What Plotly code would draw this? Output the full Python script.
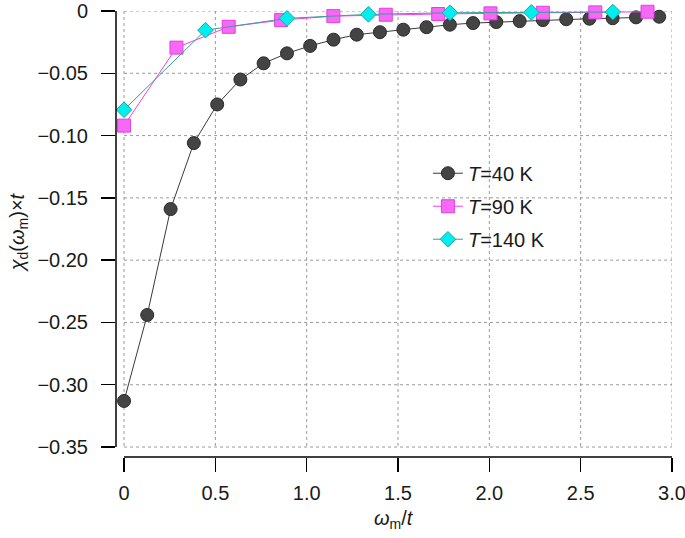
import plotly.graph_objects as go

# ---- data ----
x_40 = [0.0, 0.127, 0.255, 0.382, 0.510, 0.637, 0.764, 0.892, 1.019, 1.147, 1.274, 1.401,
        1.529, 1.656, 1.784, 1.911, 2.038, 2.166, 2.293, 2.421, 2.548, 2.675, 2.803, 2.930]
y_40 = [-0.313, -0.244, -0.159, -0.106, -0.075, -0.055, -0.042, -0.034, -0.028, -0.023, -0.019, -0.017,
        -0.015, -0.013, -0.011, -0.0097, -0.0089, -0.0081, -0.0073, -0.0066, -0.0062, -0.0058, -0.0051, -0.0046]

x_90 = [0.0, 0.287, 0.573, 0.860, 1.146, 1.433, 1.720, 2.006, 2.293, 2.580, 2.866]
y_90 = [-0.092, -0.0294, -0.0127, -0.0073, -0.0041, -0.0030, -0.0024, -0.0019, -0.0014, -0.0011, -0.0006]

x_140 = [0.0, 0.446, 0.892, 1.338, 1.784, 2.230, 2.676]
y_140 = [-0.0793, -0.0154, -0.0059, -0.0027, -0.0014, -0.0011, -0.0008]

x_ticks = [0, 0.5, 1.0, 1.5, 2.0, 2.5, 3.0]
x_tick_labels = ["0", "0.5", "1.0", "1.5", "2.0", "2.5", "3.0"]
y_ticks = [0, -0.05, -0.10, -0.15, -0.20, -0.25, -0.30, -0.35]
y_tick_labels = ["0", "\u22120.05", "\u22120.10", "\u22120.15", "\u22120.20", "\u22120.25", "\u22120.30", "\u22120.35"]

FONT = "Liberation Sans, Arial, Helvetica, sans-serif"

fig = go.Figure()

fig.add_trace(go.Scatter(
    x=x_40, y=y_40, mode="lines+markers", name="<i>T</i>=40 K", legendgroup="a",
    line=dict(color="#3a3a3a", width=1),
    marker=dict(symbol="circle", size=13, color="#444444", line=dict(color="#2a2a2a", width=1)),
    cliponaxis=False,
))
fig.add_trace(go.Scatter(
    x=x_90, y=y_90, mode="lines+markers", name="<i>T</i>=90 K", legendgroup="b",
    line=dict(color="#f040f0", width=1),
    marker=dict(symbol="square", size=13, color="#f768f7", line=dict(color="#e040e0", width=1)),
    cliponaxis=False,
))
fig.add_trace(go.Scatter(
    x=x_140, y=y_140, mode="lines+markers", name="<i>T</i>=140 K", legendgroup="c",
    line=dict(color="#3f9c9c", width=1),
    marker=dict(symbol="diamond", size=12, color="#00eeee", line=dict(color="#20a8a8", width=1)),
    cliponaxis=False,
))

# dotted grid spanning the tick range (R style)
shapes = []
for xv in x_ticks:
    shapes.append(dict(type="line", xref="x", yref="y", x0=xv, x1=xv, y0=y_ticks[0], y1=y_ticks[-1],
                       line=dict(color="#9a9a9a", width=1, dash="dot"), layer="below"))
for yv in y_ticks:
    shapes.append(dict(type="line", xref="x", yref="y", x0=x_ticks[0], x1=x_ticks[-1], y0=yv, y1=yv,
                       line=dict(color="#9a9a9a", width=1, dash="dot"), layer="below"))
# detached axis lines
shapes.append(dict(type="line", xref="x", yref="paper", x0=x_ticks[0], x1=x_ticks[-1], y0=0, y1=0,
                   line=dict(color="black", width=1.5)))
shapes.append(dict(type="line", xref="paper", yref="y", x0=0, x1=0, y0=y_ticks[0], y1=y_ticks[-1],
                   line=dict(color="black", width=1.5)))

fig.update_layout(
    template="none",
    width=685, height=538,
    margin=dict(l=116, r=13, t=11, b=81, pad=0, autoexpand=False),
    paper_bgcolor="white", plot_bgcolor="white",
    font=dict(family=FONT, size=20, color="#1a1a1a"),
    shapes=shapes,
    showlegend=True,
    hovermode=False,
    legend=dict(x=0.561, y=0.68, xanchor="left", yanchor="top",
                bgcolor="rgba(0,0,0,0)", borderwidth=0, font=dict(size=20), itemwidth=30,
                tracegroupgap=4),
    xaxis=dict(range=[-0.044, 3.0], showgrid=False, zeroline=False, showline=False,
               automargin=False, ticklabeloverflow="allow",
               tickmode="array", tickvals=x_ticks, ticktext=x_tick_labels,
               ticks="outside", ticklen=14, tickwidth=1.5, tickcolor="black",
               ticklabelstandoff=4),
    yaxis=dict(range=[-0.358, 0.0], showgrid=False, zeroline=False, showline=False,
               automargin=False, ticklabeloverflow="allow",
               tickmode="array", tickvals=y_ticks, ticktext=y_tick_labels,
               ticks="outside", ticklen=14, tickwidth=1.5, tickcolor="black",
               ticklabelstandoff=9),
    annotations=[
        dict(text="<i>\u03c9</i><sub>m</sub>/<i>t</i>", xref="paper", yref="paper",
             x=0.5, y=-0.14, xanchor="center", yanchor="middle", showarrow=False,
             font=dict(size=20)),
        dict(text="<i>\u03c7</i><sub>d</sub>(<i>\u03c9</i><sub>m</sub>)\u00d7<i>t</i>", xref="paper", yref="paper",
             x=-0.176, y=0.504, xanchor="center", yanchor="middle", textangle=-90, showarrow=False,
             font=dict(size=20)),
    ],
)

fig.write_html("out.html", config={"displayModeBar": False, "staticPlot": True},
               post_script="document.body.style.margin='0';document.body.style.overflow='hidden';")
